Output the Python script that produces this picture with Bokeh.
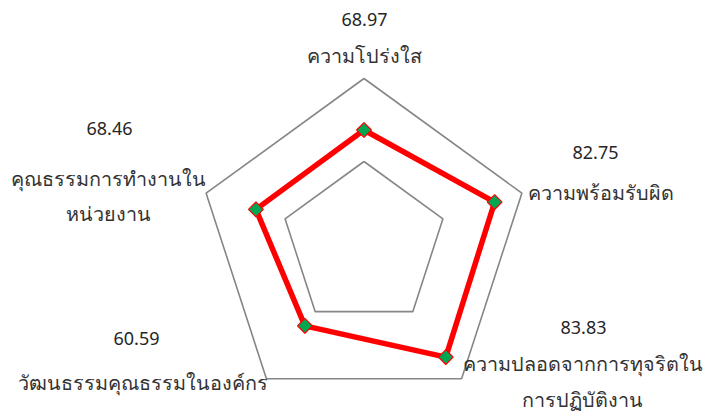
import math
from bokeh.plotting import figure
from bokeh.models import Range1d, ColumnDataSource
from bokeh.core.properties import value
from bokeh.embed import file_html
from bokeh.resources import INLINE

# ---- data ----
categories = [
    "ความโปร่งใส",
    "ความพร้อมรับผิด",
    "ความปลอดจากการทุจริตในการปฏิบัติงาน",
    "วัฒนธรรมคุณธรรมในองค์กร",
    "คุณธรรมการทำงานในหน่วยงาน",
]
label_lines = [
    ["ความโปร่งใส"],
    ["ความพร้อมรับผิด"],
    ["ความปลอดจากการทุจริตใน", "การปฏิบัติงาน"],
    ["วัฒนธรรมคุณธรรมในองค์กร"],
    ["คุณธรรมการทำงานใน", "หน่วยงาน"],
]
scores = [68.97, 82.75, 83.83, 60.59, 68.46]
grid_levels = [50, 100]

# ---- layout (picture pixels) ----
W, H = 704, 418
CX, CY = 363.5, 244.0        # radar centre in the picture
PX = 1.66                    # pixels per value unit
FONT = "Noto Sans"
FS_NUM = "18px"
FS_NAME = "19.8px"
# label anchors in picture pixels: (value x, value y, name x, [name line ys])
label_pos = [
    (364, 19, 364, [55]),
    (595, 152, 600, [192]),
    (583, 327, 582, [363, 399]),
    (136, 338, 142, [382]),
    (109, 128, 108, [178, 213]),
]


def to_data(px, py):
    return (px - CX) / PX, (CY - py) / PX


x0, y0 = to_data(0, 0)
x1, y1 = to_data(W, H)

p = figure(width=W, height=H, output_backend="svg", toolbar_location=None,
           x_range=Range1d(x0, x1), y_range=Range1d(y1, y0),
           min_border=0, outline_line_color=None)
p.axis.visible = False
p.grid.visible = False
p.background_fill_color = "white"
p.border_fill_color = "white"

n = len(categories)
angles = [math.pi / 2 - 2 * math.pi * i / n for i in range(n)]

for lv in grid_levels:
    xs = [lv * math.cos(a) for a in angles] + [lv * math.cos(angles[0])]
    ys = [lv * math.sin(a) for a in angles] + [lv * math.sin(angles[0])]
    p.line(xs, ys, line_color="#868686", line_width=1.6)

dx = [s * math.cos(a) for s, a in zip(scores, angles)]
dy = [s * math.sin(a) for s, a in zip(scores, angles)]
src = ColumnDataSource(dict(x=dx, y=dy))
p.line(dx + dx[:1], dy + dy[:1], line_color="#FF0000", line_width=5.5,
       line_join="round")
p.scatter("x", "y", source=src, marker="square", size=10.5, angle=math.pi / 4,
          fill_color="#00A651", line_color="#FF0000", line_width=1.2)

for s, lines, (vx, vy, nx, nys) in zip(scores, label_lines, label_pos):
    tx, ty = to_data(vx, vy)
    p.text([tx], [ty], text=[f"{s:.2f}"], text_align="center",
           text_baseline="middle", text_font=value(FONT),
           text_font_size=FS_NUM, text_color="#262626")
    for line, ny in zip(lines, nys):
        tx, ty = to_data(nx, ny)
        p.text([tx], [ty], text=[line], text_align="center",
               text_baseline="middle", text_font=value(FONT),
               text_font_size=FS_NAME, text_color="#333333")

open("out.html", "w").write(file_html(p, INLINE))
